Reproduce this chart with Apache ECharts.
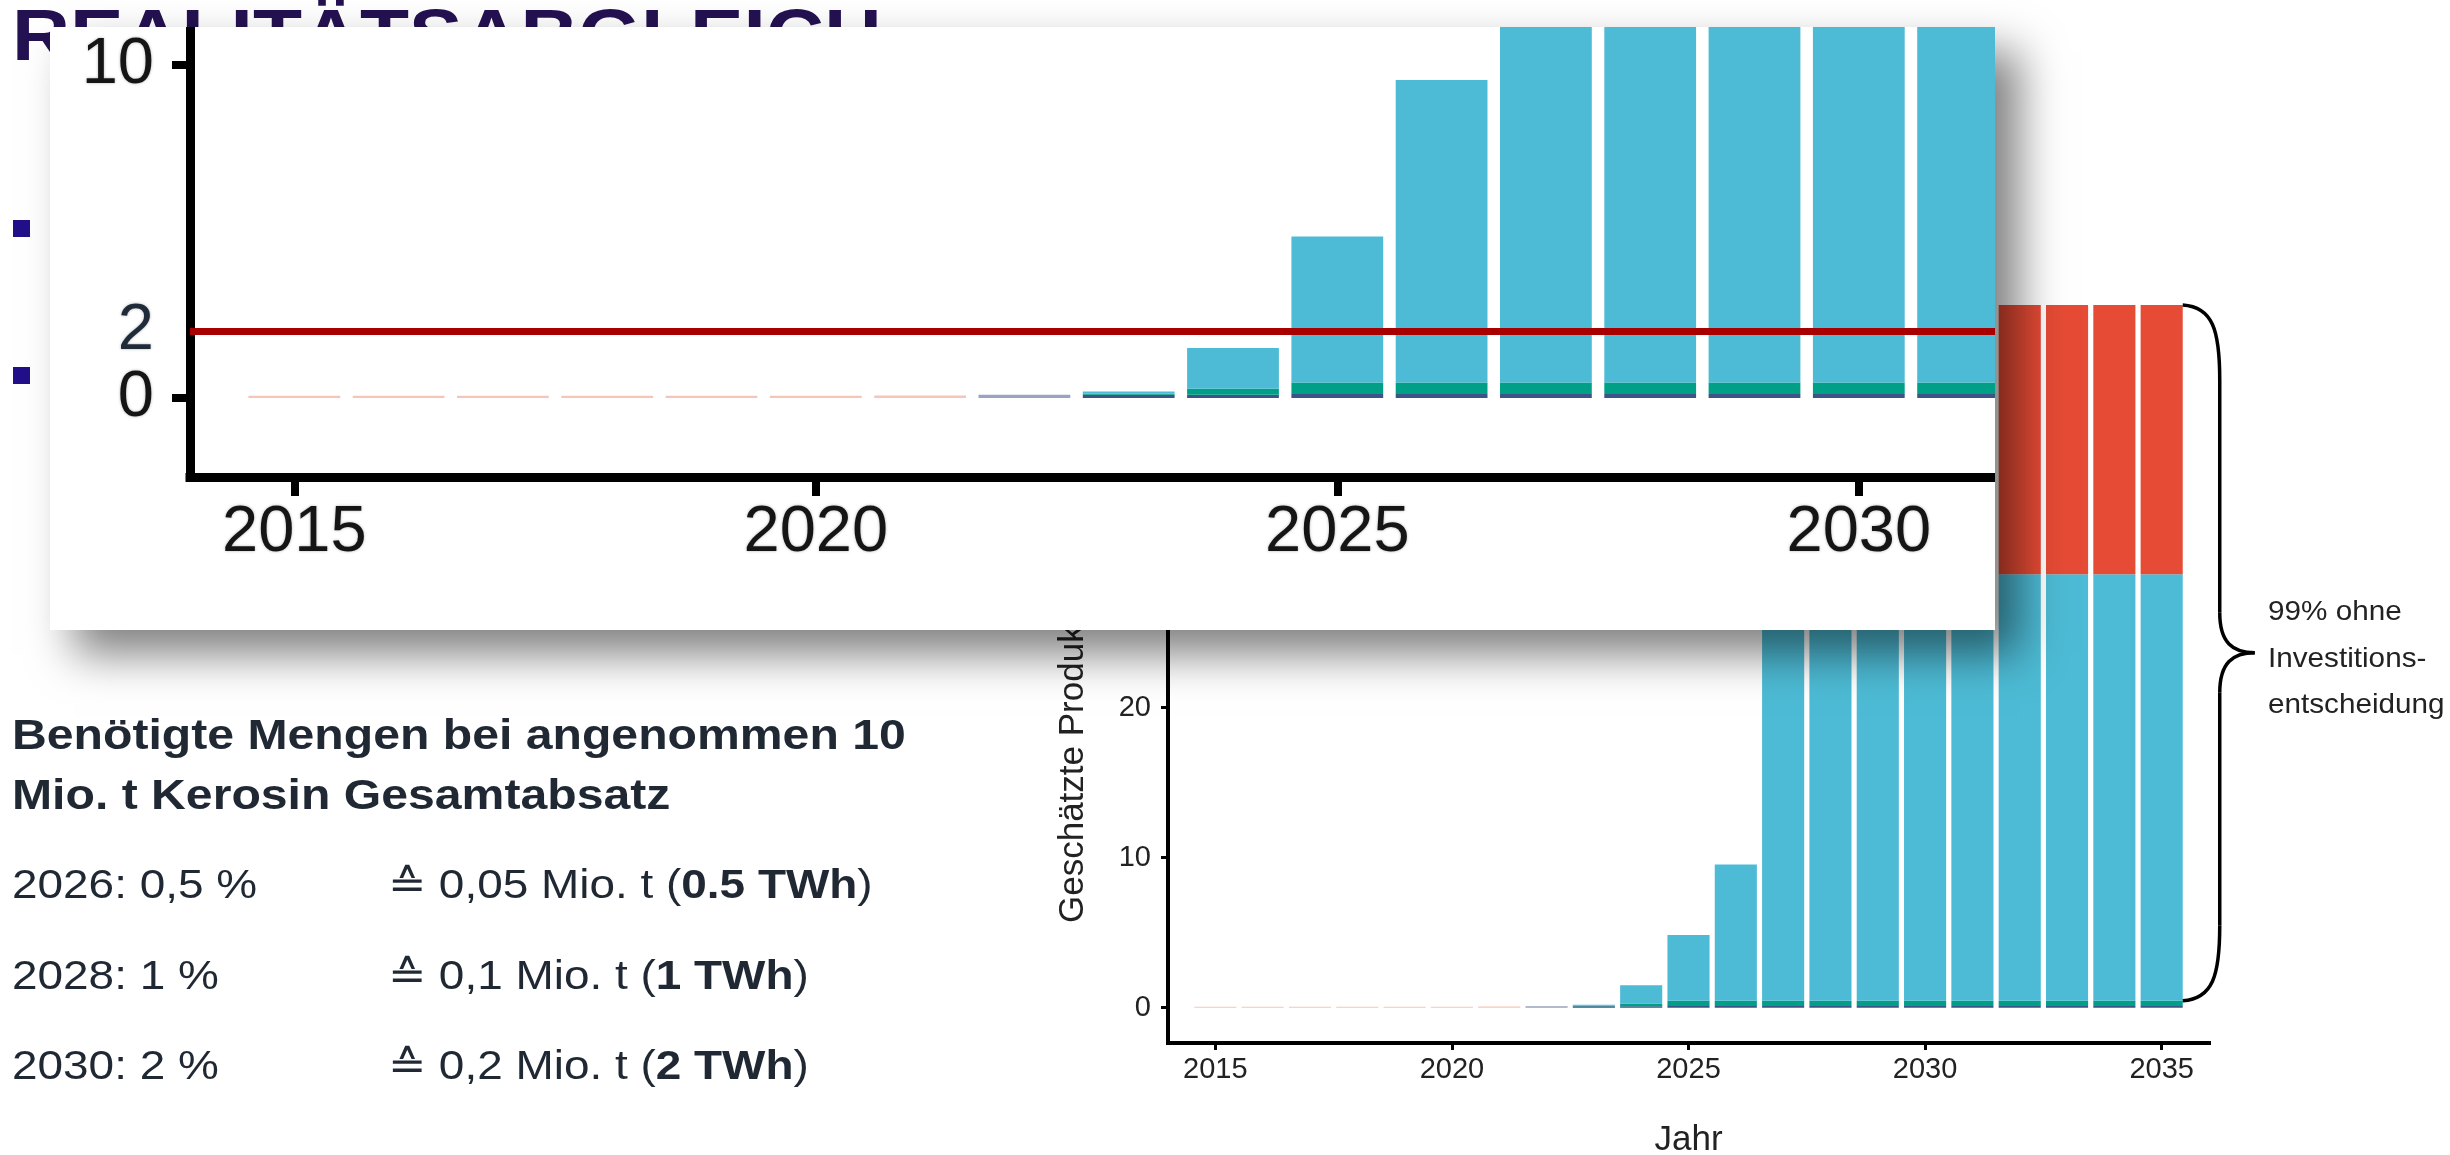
<!DOCTYPE html>
<html>
<head>
<meta charset="utf-8">
<title>Realitätsabgleich – geschätzte Produktion</title>
<script src="https://cdn.jsdelivr.net/npm/echarts@6/dist/echarts.min.js"></script>
<style>
  html, body { margin: 0; padding: 0; background: #ffffff; overflow: hidden; }
  #chart { position: absolute; left: 0; top: 0; width: 2450px; height: 1155px; }
  /* zoomed view of the same chart, pasted on top of the slide */
  #zoomPanel {
    position: absolute; left: 50px; top: 27px; width: 1945px; height: 603px;
    overflow: hidden; background: #ffffff;
    box-shadow: 24px 24px 42px rgba(0, 0, 0, 0.5);
  }
  #zoomChart { position: absolute; left: 0; top: 0; width: 2500px; height: 603px; }
</style>
</head>
<body>
<div id="chart"></div>
<div id="zoomPanel"><div id="zoomChart"></div></div>
<script>
// ---- data (TWh per year, stacked bottom to top) ----
const years    = [2015, 2016, 2017, 2018, 2019, 2020, 2021, 2022, 2023, 2024, 2025,
                  2026, 2027, 2028, 2029, 2030, 2031, 2032, 2033, 2034, 2035];
const salmon   = [0.07, 0.07, 0.07, 0.07, 0.07, 0.07, 0.08, 0, 0, 0, 0,
                  0, 0, 0, 0, 0, 0, 0, 0, 0, 0];
const lavender = [0, 0, 0, 0, 0, 0, 0, 0.1, 0, 0, 0,
                  0, 0, 0, 0, 0, 0, 0, 0, 0, 0];
const navy     = [0, 0, 0, 0, 0, 0, 0, 0, 0.1, 0.1, 0.12,
                  0.12, 0.12, 0.12, 0.12, 0.12, 0.12, 0.12, 0.12, 0.12, 0.12];
const green    = [0, 0, 0, 0, 0, 0, 0, 0, 0.03, 0.18, 0.35,
                  0.35, 0.35, 0.35, 0.35, 0.35, 0.35, 0.35, 0.35, 0.35, 0.35];
const blue     = [0, 0, 0, 0, 0, 0, 0, 0, 0.07, 1.22, 4.38,
                  9.08, 28.43, 28.43, 28.43, 28.43, 28.43, 28.43, 28.43, 28.43, 28.43];
const red      = [0, 0, 0, 0, 0, 0, 0, 0, 0, 0, 0,
                  0, 17.95, 17.95, 17.95, 17.95, 17.95, 17.95, 17.95, 17.95, 17.95];

// year axis runs one year past the data on both sides
const axisYears    = [2014, ...years, 2036];
const yearTicks    = [2015, 2020, 2025, 2030, 2035];
const mainYTicks   = [0, 10, 20, 30, 40];
const zoomYLabels  = [0, 2, 10];
const zoomYTicks   = [0, 10];
const targetTWh    = 2;   // Zielmenge 2030

const layers = [
  { name: 'salmon',   data: salmon,   color: '#f5c6b8' },
  { name: 'lavender', data: lavender, color: '#9aa3c0' },
  { name: 'navy',     data: navy,     color: '#3C5488' },
  { name: 'green',    data: green,    color: '#00A087' },
  { name: 'blue',     data: blue,     color: '#4DBBD5' },
  { name: 'red',      data: red,      color: '#E64B35' }
];

const FONT = "'Liberation Sans', Arial, Helvetica, sans-serif";
const isYearTick = (idx, value) => yearTicks.indexOf(Number(value)) >= 0;

function stackSeries(barWidth) {
  return layers.map(l => ({
    type: 'bar',
    name: l.name,
    stack: 'prod',
    barWidth: barWidth,
    itemStyle: { color: l.color },
    emphasis: { disabled: true },
    data: years.map((y, i) => [String(y), l.data[i]])
  }));
}

function yearAxis(o) {
  return {
    type: 'category',
    data: axisYears.map(String),
    boundaryGap: false,
    splitLine: { show: false },
    axisLine: { show: true, onZero: false, lineStyle: { color: '#000', width: o.lineWidth, cap: 'square' } },
    axisTick: { show: true, interval: isYearTick, length: o.tickLen, lineStyle: { color: '#000', width: o.tickWidth } },
    axisLabel: Object.assign({ show: true, interval: isYearTick, margin: o.margin, fontSize: o.fontSize,
                               color: o.color, fontFamily: FONT }, o.extra || {})
  };
}

// ---------- full chart with the slide text ----------
const chart = echarts.init(document.getElementById('chart'), null, { renderer: 'canvas' });

const slideText = [
  { id: 'title', type: 'text', x: 12, y: 40, z: 1, scaleX: 1.1,
    style: { text: 'REALITÄTSABGLEICH', fill: '#241152', fontSize: 73, fontWeight: 'bold',
             fontFamily: FONT, textAlign: 'left', textVerticalAlign: 'middle' } },
  { id: 'bullet1', type: 'rect', z: 1, shape: { x: 13, y: 220, width: 17, height: 17 }, style: { fill: '#22108a' } },
  { id: 'bullet2', type: 'rect', z: 1, shape: { x: 13, y: 367, width: 17, height: 17 }, style: { fill: '#22108a' } },

  { id: 't1', type: 'text', x: 12, y: 737, z: 5, scaleX: 1.12,
    style: { text: 'Benötigte Mengen bei angenommen 10', fill: '#1f2833', fontSize: 43, fontWeight: 'bold',
             fontFamily: FONT, textAlign: 'left', textVerticalAlign: 'middle' } },
  { id: 't2', type: 'text', x: 12, y: 797, z: 5, scaleX: 1.12,
    style: { text: 'Mio. t Kerosin Gesamtabsatz', fill: '#1f2833', fontSize: 43, fontWeight: 'bold',
             fontFamily: FONT, textAlign: 'left', textVerticalAlign: 'middle' } },
  { id: 'r1a', type: 'text', x: 12, y: 887, z: 5, scaleX: 1.12,
    style: { text: '2026: 0,5 %', fill: '#1f2833', fontSize: 41, fontFamily: FONT,
             textAlign: 'left', textVerticalAlign: 'middle' } },
  { id: 'r1b', type: 'text', x: 388, y: 887, z: 5, scaleX: 1.12,
    style: { text: '≙ 0,05 Mio. t ({b|0.5 TWh})', fill: '#1f2833', fontSize: 41, fontFamily: FONT,
             textAlign: 'left', textVerticalAlign: 'middle',
             rich: { b: { fontWeight: 'bold', fontSize: 41, fontFamily: FONT, fill: '#1f2833' } } } },
  { id: 'r2a', type: 'text', x: 12, y: 978, z: 5, scaleX: 1.12,
    style: { text: '2028: 1 %', fill: '#1f2833', fontSize: 41, fontFamily: FONT,
             textAlign: 'left', textVerticalAlign: 'middle' } },
  { id: 'r2b', type: 'text', x: 388, y: 978, z: 5, scaleX: 1.12,
    style: { text: '≙ 0,1 Mio. t ({b|1 TWh})', fill: '#1f2833', fontSize: 41, fontFamily: FONT,
             textAlign: 'left', textVerticalAlign: 'middle',
             rich: { b: { fontWeight: 'bold', fontSize: 41, fontFamily: FONT, fill: '#1f2833' } } } },
  { id: 'r3a', type: 'text', x: 12, y: 1068, z: 5, scaleX: 1.12,
    style: { text: '2030: 2 %', fill: '#1f2833', fontSize: 41, fontFamily: FONT,
             textAlign: 'left', textVerticalAlign: 'middle' } },
  { id: 'r3b', type: 'text', x: 388, y: 1068, z: 5, scaleX: 1.12,
    style: { text: '≙ 0,2 Mio. t ({b|2 TWh})', fill: '#1f2833', fontSize: 41, fontFamily: FONT,
             textAlign: 'left', textVerticalAlign: 'middle',
             rich: { b: { fontWeight: 'bold', fontSize: 41, fontFamily: FONT, fill: '#1f2833' } } } },

  { id: 'ytitle', type: 'text', x: 1073, y: 923, z: 3, rotation: Math.PI / 2,
    style: { text: 'Geschätzte Produktion (TWh)', fill: '#222', fontSize: 35, fontFamily: FONT,
             textAlign: 'left', textVerticalAlign: 'middle' } },

  { id: 'a1', type: 'text', x: 2268, y: 612, z: 5, scaleX: 1.06,
    style: { text: '99% ohne', fill: '#222', fontSize: 28, fontFamily: FONT, textAlign: 'left', textVerticalAlign: 'middle' } },
  { id: 'a2', type: 'text', x: 2268, y: 659, z: 5, scaleX: 1.06,
    style: { text: 'Investitions-', fill: '#222', fontSize: 28, fontFamily: FONT, textAlign: 'left', textVerticalAlign: 'middle' } },
  { id: 'a3', type: 'text', x: 2268, y: 705, z: 5, scaleX: 1.06,
    style: { text: 'entscheidung', fill: '#222', fontSize: 28, fontFamily: FONT, textAlign: 'left', textVerticalAlign: 'middle' } }
];

chart.setOption({
  animation: false,
  backgroundColor: '#ffffff',
  grid: { left: 1168, top: 273, width: 1041, height: 770, containLabel: false, outerBoundsMode: 'none' },
  xAxis: Object.assign(yearAxis({ lineWidth: 4, tickLen: 7, tickWidth: 3, margin: 12, fontSize: 29, color: '#222' }), {
    name: 'Jahr', nameLocation: 'middle', nameGap: 80,
    nameTextStyle: { fontSize: 35, color: '#222', fontFamily: FONT }
  }),
  yAxis: {
    type: 'value', min: -2.35, max: 48.98,
    splitLine: { show: false },
    axisLine: { show: true, onZero: false, lineStyle: { color: '#000', width: 4 } },
    axisTick: { show: true, customValues: mainYTicks, length: 7, lineStyle: { color: '#000', width: 3 } },
    axisLabel: { show: true, customValues: mainYTicks, margin: 17, fontSize: 29, color: '#222', fontFamily: FONT,
                 formatter: v => String(v) }
  },
  series: stackSeries('89%'),
  graphic: { elements: slideText }
});

// curly brace spanning the 2035 column, placed from the axis scales
(function addBrace() {
  const i = years.length - 1;
  const base = navy[i] + green[i];
  const total = base + blue[i] + red[i];
  const pTop = chart.convertToPixel({ gridIndex: 0 }, [String(years[i]), total]);
  const pBot = chart.convertToPixel({ gridIndex: 0 }, [String(years[i]), base]);
  const pNext = chart.convertToPixel({ gridIndex: 0 }, [String(years[i] + 1), base]);
  const x0 = pTop[0] + (pNext[0] - pTop[0]) * 0.445;
  const top = pTop[1], bot = pBot[1];
  const xv = x0 + 37, tip = x0 + 72, mid = (top + bot) / 2;
  const st = { stroke: '#000', lineWidth: 3.5, fill: null };
  const els = [
    { id: 'b1', type: 'bezierCurve', z: 6, shape: { x1: x0, y1: top, x2: xv, y2: top + 75,
      cpx1: x0 + 30, cpy1: top + 2, cpx2: xv, cpy2: top + 25 }, style: st },
    { id: 'b2', type: 'line', z: 6, shape: { x1: xv, y1: top + 75, x2: xv, y2: mid - 40 }, style: st },
    { id: 'b3', type: 'bezierCurve', z: 6, shape: { x1: xv, y1: mid - 40, x2: tip, y2: mid,
      cpx1: xv, cpy1: mid - 10, cpx2: tip - 22, cpy2: mid }, style: st },
    { id: 'b4', type: 'bezierCurve', z: 6, shape: { x1: tip, y1: mid, x2: xv, y2: mid + 40,
      cpx1: tip - 22, cpy1: mid, cpx2: xv, cpy2: mid + 10 }, style: st },
    { id: 'b5', type: 'line', z: 6, shape: { x1: xv, y1: mid + 40, x2: xv, y2: bot - 75 }, style: st },
    { id: 'b6', type: 'bezierCurve', z: 6, shape: { x1: xv, y1: bot - 75, x2: x0, y2: bot,
      cpx1: xv, cpy1: bot - 25, cpx2: x0 + 30, cpy2: bot - 2 }, style: st }
  ];
  chart.setOption({ graphic: { elements: slideText.concat(els) } });
})();

// ---------- zoomed view (0–10 TWh) with the 2 TWh target ----------
const zoom = echarts.init(document.getElementById('zoomChart'), null, { renderer: 'canvas' });
const softText = { textShadowColor: 'rgba(0,0,0,0.3)', textShadowBlur: 3 };

zoom.setOption({
  animation: false,
  backgroundColor: '#ffffff',
  grid: { left: 140, top: 0, width: 2294.6, height: 450, containLabel: false, outerBoundsMode: 'none' },
  xAxis: yearAxis({ lineWidth: 9, tickLen: 19, tickWidth: 8, margin: 24, fontSize: 65, color: '#151515', extra: softText }),
  yAxis: {
    type: 'value', min: -2.37, max: 11.14,
    splitLine: { show: false },
    axisLine: { show: true, onZero: false, lineStyle: { color: '#000', width: 9, cap: 'square' } },
    axisTick: { show: true, customValues: zoomYTicks, length: 18, lineStyle: { color: '#000', width: 8 } },
    axisLabel: Object.assign({ show: true, customValues: zoomYLabels, margin: 36, fontSize: 65,
                 color: '#151515', fontFamily: FONT,
                 formatter: v => (v === targetTWh ? '{t|' + v + '}' : String(v)),
                 rich: { t: { fontSize: 65, color: '#1f2b38', fontFamily: FONT, textShadowBlur: 0 } } }, softText)
  },
  series: [
    ...stackSeries('88%'),
    {
      type: 'line', name: 'Ziel', z: 5, symbol: 'none', silent: true,
      lineStyle: { color: '#a80000', width: 7 },
      data: axisYears.map(y => [String(y), targetTWh])
    }
  ]
});
</script>
</body>
</html>
